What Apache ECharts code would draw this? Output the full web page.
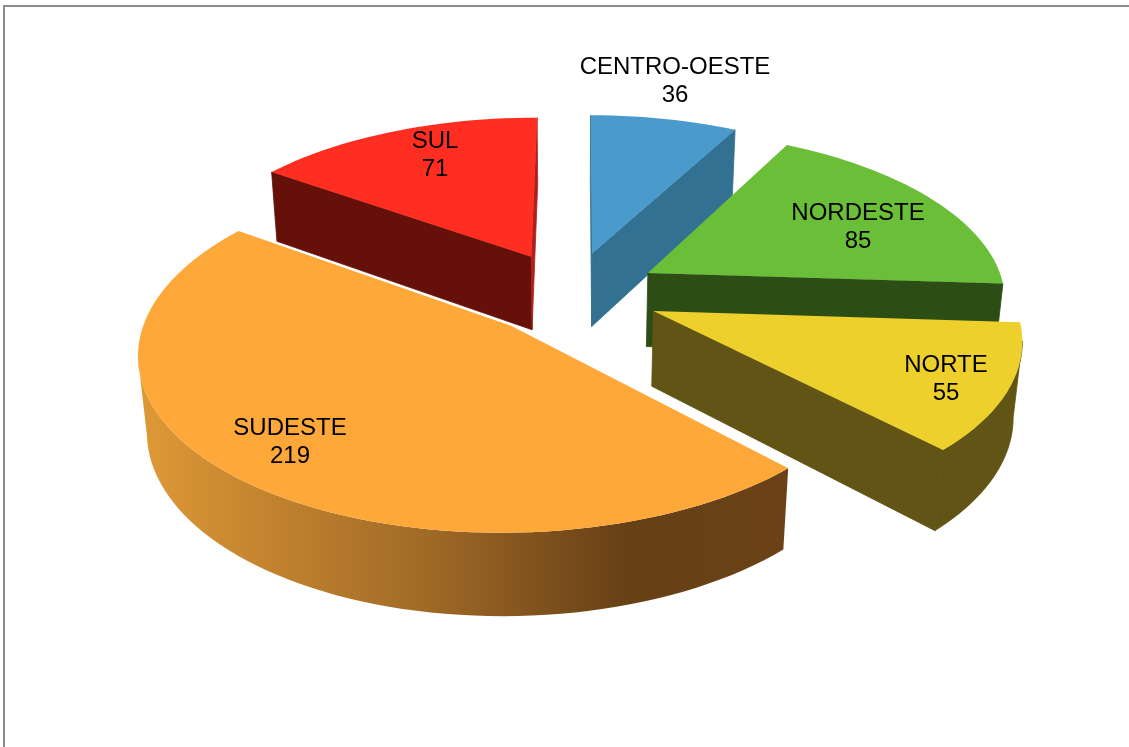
<!DOCTYPE html>
<html><head><meta charset="utf-8">
<style>html,body{margin:0;padding:0;background:#fff}#c{width:1129px;height:747px}</style>
<script src="https://cdn.jsdelivr.net/npm/echarts@6/dist/echarts.min.js"></script></head>
<body><div id="c"></div>
<script>
// data, clockwise from 12 o'clock
const categories = ['CENTRO-OESTE','NORDESTE','NORTE','SUDESTE','SUL'];
const values = [36,85,55,219,71];
// styling
const topColors = ['#4A9BCB','#6ABE38','#EDD02B','#FDA838','#FF2E20'];
const sideColors = ['#337193','#2C4E15','#615414','#6A4117','#651009'];
const labelCenters = [[675,81],[858,227],[946,379],[290,442],[435,155]];
const drawOrder = [4,0,1,2,3];
// projection
const CX=571, CY=293, RX=358, RY=168, P=0.14, Q=0.02, H=76, EXPLODE=0.25, START=0.2;
function proj(X,V,Z){const s=1/(1-P*V+Q*Z);return [CX+RX*X*s, CY+RY*V*s+H*Z*s];}
const total = values.reduce((a,b)=>a+b,0);
const angles=[];{let a=START;for(const v of values){angles.push([a,a+v/total*360]);a+=v/total*360;}}
const rad=d=>d*Math.PI/180;

function renderItem(params,api){
  const i=api.value(0), [a0,a1]=angles[i], mid=rad((a0+a1)/2);
  const ox=EXPLODE*Math.sin(mid), ov=-EXPLODE*Math.cos(mid);
  const world=[[ox,ov]];
  const n=Math.max(8,Math.round((a1-a0)/2));
  for(let k=0;k<=n;k++){const a=rad(a0+(a1-a0)*k/n);world.push([ox+Math.sin(a),ov-Math.cos(a)]);}
  const top=world.map(p=>proj(p[0],p[1],0)), bot=world.map(p=>proj(p[0],p[1],1));
  const children=[];
  const gradient = i===3 ? new echarts.graphic.LinearGradient(0,0,1,0,[
      {offset:0,color:'#DF9936'},{offset:0.43,color:'#A26B27'},{offset:0.75,color:'#674016'},{offset:1,color:'#6B4217'}]) : null;
  // visible side faces: boundary runs clockwise on screen, so edges heading left face the viewer
  const m=top.length;
  const visOuter=[];
  for(let k=1;k<m-1;k++){ if(top[k+1][0]<top[k][0]) visOuter.push(k); }
  if(visOuter.length){
    const f=visOuter[0], l=visOuter[visOuter.length-1]+1, pts=[];
    for(let k=f;k<=l;k++)pts.push(top[k]);
    for(let k=l;k>=f;k--)pts.push(bot[k]);
    children.push({type:'polygon',shape:{points:pts},style:{fill:gradient||sideColors[i],stroke:gradient?null:sideColors[i],lineWidth:0.8}});
  }
  [[0,1],[m-1,0]].forEach(([p,q],e)=>{
    const c = (i===4 && e===1) ? '#B0201A' : sideColors[i];
    if(top[q][0]<top[p][0]) children.push({type:'polygon',shape:{points:[top[p],top[q],bot[q],bot[p]]},style:{fill:c,stroke:c,lineWidth:0.8}});
  });
  children.push({type:'polygon',shape:{points:top},style:{fill:topColors[i]}});
  return {type:'group',children};
}
function renderLabels(params,api){
  const i=api.value(0);
  return {type:'text',z2:100,style:{x:labelCenters[i][0],y:labelCenters[i][1],text:categories[i]+'\n'+values[i],
    fill:'#000',font:'24px "Liberation Sans", Arial, sans-serif',align:'center',verticalAlign:'middle',lineHeight:28}};
}
const chart=echarts.init(document.getElementById('c'),null,{renderer:'canvas'});
chart.setOption({
  animation:false,
  graphic:[
    {type:'line',shape:{x1:4,y1:6,x2:1129,y2:6},style:{stroke:'#8c8c8c',lineWidth:2}},
    {type:'line',shape:{x1:4,y1:5,x2:4,y2:747},style:{stroke:'#8c8c8c',lineWidth:2}}
  ],
  series:[
    {type:'custom',coordinateSystem:'none',renderItem,z:1,silent:true,data:drawOrder.map(i=>[i,values[i]])},
    {type:'custom',coordinateSystem:'none',renderItem:renderLabels,z:2,silent:true,data:drawOrder.map(i=>[i,values[i]])}
  ]
});
</script></body></html>
